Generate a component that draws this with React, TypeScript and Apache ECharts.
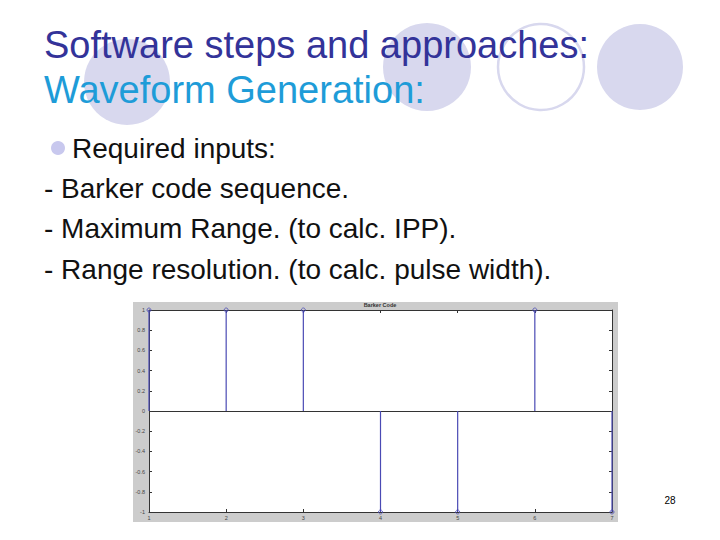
import React, { useEffect, useRef } from "react";
import * as echarts from "echarts";

// ---- Data ----
const chartTitle = "Barker Code";
const positions = [1, 2, 3, 4, 5, 6, 7];
const barkerValues = [1, 1, 1, -1, -1, 1, -1];
const slideTitle1 = "Software steps and approaches:";
const slideTitle2 = "Waveform Generation:";
const bulletText = "Required inputs:";
const bodyLines = [
  "- Barker code sequence.",
  "- Maximum Range. (to calc. IPP).",
  "- Range resolution. (to calc. pulse width).",
];
const slideNumber = "28";

const FONT = "'Liberation Sans', Arial, sans-serif";
const STEM = "#4a4ab4";
const LAV = "#d8d8ee";

export default function App() {
  const ref = useRef<HTMLDivElement>(null);
  useEffect(() => {
    if (!ref.current) return;
    const chart = echarts.init(ref.current, undefined, { renderer: "svg" });
    const data = positions.map((p, i) => [p, barkerValues[i]]);
    const option: any = {
      animation: false,
      backgroundColor: "#ffffff",
      graphic: [
        // decorative circles
        { type: "circle", z: -20, shape: { cx: 127, cy: 82, r: 43 }, style: { fill: LAV } },
        { type: "circle", z: -20, shape: { cx: 427, cy: 67, r: 44 }, style: { fill: LAV } },
        { type: "circle", z: -20, shape: { cx: 541, cy: 67, r: 43 }, style: { fill: "none", stroke: LAV, lineWidth: 2.5 } },
        { type: "circle", z: -20, shape: { cx: 640, cy: 67, r: 43 }, style: { fill: LAV } },
        // titles
        { type: "text", z: 10, x: 44, y: 45, style: { text: slideTitle1, fontFamily: FONT, fontSize: 38, fill: "#333399", verticalAlign: "middle" } },
        { type: "text", z: 10, x: 44, y: 90, style: { text: slideTitle2, fontFamily: FONT, fontSize: 38, fill: "#1e9cd8", verticalAlign: "middle" } },
        // bullet
        { type: "circle", z: 10, shape: { cx: 58, cy: 148, r: 7 }, style: { fill: "#c8c8ee" } },
        { type: "text", z: 10, x: 72, y: 148, style: { text: bulletText, fontFamily: FONT, fontSize: 28, fill: "#111111", verticalAlign: "middle" } },
        ...bodyLines.map((t, i) => ({
          type: "text", z: 10, x: 44, y: 188 + i * 40.5,
          style: { text: t, fontFamily: FONT, fontSize: 28, fill: "#111111", verticalAlign: "middle" },
        })),
        // figure panel
        { type: "rect", z: -10, shape: { x: 133, y: 302, width: 485, height: 220 }, style: { fill: "#cccccc" } },
        { type: "rect", z: -9, shape: { x: 149, y: 310, width: 463, height: 202 }, style: { fill: "#ffffff" } },
        { type: "text", z: 10, x: 380, y: 305, style: { text: chartTitle, fontFamily: FONT, fontSize: 5.5, fontWeight: "bold", fill: "#333333", align: "center", verticalAlign: "middle" } },
        // slide number
        { type: "text", z: 10, x: 670, y: 500, style: { text: slideNumber, fontFamily: FONT, fontSize: 10, fill: "#000000", align: "center", verticalAlign: "middle" } },
      ],
      grid: { left: 149, top: 310, width: 463, height: 202, containLabel: false },
      xAxis: [
        {
          type: "value", min: 1, max: 7, interval: 1, position: "bottom",
          axisLine: { show: true, onZero: false, lineStyle: { color: "#333", width: 1 } },
          axisTick: { show: true, inside: true, length: 3, lineStyle: { color: "#333" } },
          axisLabel: { fontSize: 5.5, color: "#444", margin: 3, fontFamily: FONT },
          splitLine: { show: false },
        },
        {
          type: "value", min: 1, max: 7, interval: 1, position: "top",
          axisLine: { show: true, onZero: false, lineStyle: { color: "#333", width: 1 } },
          axisTick: { show: true, inside: true, length: 3, lineStyle: { color: "#333" } },
          axisLabel: { show: false },
          splitLine: { show: false },
        },
      ],
      yAxis: [
        {
          type: "value", min: -1, max: 1, interval: 0.2, position: "left",
          axisLine: { show: true, onZero: false, lineStyle: { color: "#333", width: 1 } },
          axisTick: { show: true, inside: true, length: 3, lineStyle: { color: "#333" } },
          axisLabel: { fontSize: 5.5, color: "#444", margin: 4, fontFamily: FONT, formatter: (v: number) => String(Math.round(v * 10) / 10) },
          splitLine: { show: false },
        },
        {
          type: "value", min: -1, max: 1, interval: 0.2, position: "right",
          axisLine: { show: true, onZero: false, lineStyle: { color: "#333", width: 1 } },
          axisTick: { show: true, inside: true, length: 3, lineStyle: { color: "#333" } },
          axisLabel: { show: false },
          splitLine: { show: false },
        },
      ],
      series: [
        {
          type: "custom",
          clip: false,
          data,
          renderItem: (params: any, api: any) => {
            const x = api.value(0);
            const y = api.value(1);
            const p0 = api.coord([x, 0]);
            const p1 = api.coord([x, y]);
            return {
              type: "group",
              children: [
                { type: "line", shape: { x1: p0[0], y1: p0[1], x2: p1[0], y2: p1[1] }, style: { stroke: STEM, lineWidth: 1.2 } },
                { type: "circle", shape: { cx: p1[0], cy: p1[1], r: 2 }, style: { fill: "none", stroke: STEM, lineWidth: 0.8 } },
              ],
            };
          },
          markLine: {
            silent: true,
            symbol: "none",
            label: { show: false },
            lineStyle: { color: "#333", width: 1, type: "solid" },
            data: [{ yAxis: 0 }],
          },
          z: 5,
        },
      ],
    };
    chart.setOption(option);
    return () => chart.dispose();
  }, []);
  return <div ref={ref} style={{ position: "absolute", left: 0, top: 0, width: 720, height: 540 }} />;
}
